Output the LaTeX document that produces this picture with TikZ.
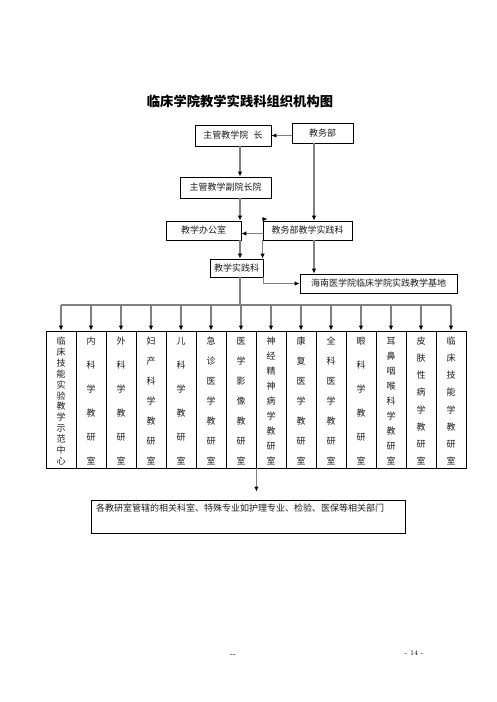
\documentclass[tikz,border=0pt]{standalone}
\usepackage{fontspec}
\newfontfamily\cjk{Noto Sans CJK SC}
\usetikzlibrary{positioning,arrows.meta}
\definecolor{colorline}{RGB}{128,128,128}
\definecolor{colortext}{RGB}{29 ,29 ,27 }

% one teaching office column: #1 index, #2 number of characters, #3 characters
\newcommand\keshi[3]{%
    \node[col] at ({31+30*#1},399.5) (ks#1) {};
    \foreach \c [count=\k from 0] in {#3}
        \node[txt] at ({31+30*#1},{341+120*\k/(#2-1)}) {\c};
}

\begin{document}
\begin{tikzpicture}[
    x=1pt, y=-1pt,
    font={\cjk\fontsize{9}{9}\selectfont},
    base/.style={draw=black,line width=0.8pt,fill=white,text=colortext,inner sep=0pt,align=center,rectangle},
    col/.style={base,minimum width=30pt,minimum height=137pt},
    txt/.style={text=colortext,inner sep=0pt},
    conn/.style={draw=colorline,line width=1.6pt,-{Latex[length=5pt,width=4.5pt,color=black]}},
    bus/.style={draw=colorline,line width=1.6pt},
]
    \useasboundingbox (0,0) rectangle (496,702);

    \node[font={\cjk\bfseries\fontsize{13.3}{14}\selectfont}] at (240,101) (title) {临床学院教学实践科组织机构图};

    \coordinate (axis)  at (240,0);
    \coordinate (axisb) at (314,0);

    \node[base,minimum width=76pt,minimum height=21pt] at (233,135.5) (yuanzhang) {主管教学院\hspace{0.6em}长};
    \node[base,minimum width=61pt,minimum height=20pt] at (322.5,133) (jiaowubu) {教务部};
    \draw[conn] (jiaowubu.west |- yuanzhang.east) -- (yuanzhang.east);

    \node[base,minimum width=91pt,minimum height=21pt] at (225.5,187.5) (fuyuanzhang) {主管教学副院长院};
    \draw[conn] (axis |- yuanzhang.south) -- (axis |- fuyuanzhang.north);

    \node[base,minimum width=75pt,minimum height=19pt] at (203.5,230.5) (bangong) {教学办公室};
    \node[base,minimum width=89pt,minimum height=19pt] at (307.5,230.5) (wuke) {教务部教学实践科};
    \draw[conn] (axis |- fuyuanzhang.south) -- (axis |- bangong.north);
    \draw[conn] (axisb |- jiaowubu.south) -- (axisb |- wuke.north);
    \draw[conn] ([yshift=-3pt]wuke.west) -- ([yshift=-3pt]bangong.east);
    \draw[conn] ([xshift=-1pt,yshift=1.5pt]wuke.north west) -- ([xshift=5pt,yshift=1.5pt]wuke.north west);

    \node[base,minimum width=53pt,minimum height=18pt] at (236.5,268) (shijian) {教学实践科};
    \draw[conn] (axis |- bangong.south) -- (axis |- shijian.north);
    \draw[conn] (wuke.south west) -- (wuke.south west |- shijian.north);

    \node[base,minimum width=157pt,minimum height=19pt] at (378.5,283.5) (hainan) {海南医学院临床学院实践教学基地};
    \draw[conn] (axisb |- wuke.south) -- (axisb |- hainan.north);
    \draw[conn] (shijian.south east) |- (hainan.west);

    % teaching and research offices
    \keshi{1}{12}{临,床,技,能,实,验,教,学,示,范,中,心}
    \keshi{2}{6}{内,科,学,教,研,室}
    \keshi{3}{6}{外,科,学,教,研,室}
    \keshi{4}{7}{妇,产,科,学,教,研,室}
    \keshi{5}{6}{儿,科,学,教,研,室}
    \keshi{6}{7}{急,诊,医,学,教,研,室}
    \keshi{7}{7}{医,学,影,像,教,研,室}
    \keshi{8}{9}{神,经,精,神,病,学,教,研,室}
    \keshi{9}{7}{康,复,医,学,教,研,室}
    \keshi{10}{7}{全,科,医,学,教,研,室}
    \keshi{11}{6}{眼,科,学,教,研,室}
    \keshi{12}{9}{耳,鼻,咽,喉,科,学,教,研,室}
    \keshi{13}{8}{皮,肤,性,病,学,教,研,室}
    \keshi{14}{8}{临,床,技,能,学,教,研,室}

    \coordinate (bus) at (240,305);
    \draw[bus] (axis |- shijian.south) -- (bus);
    \draw[bus] (ks1.north |- bus) -- (ks14.north |- bus);
    \foreach \i in {1,...,14}
        \draw[conn] (ks\i.north |- bus) -- (ks\i.north);

    \node[base,minimum width=314pt,minimum height=33pt,text width=304pt,align=left,
          font={\cjk\fontsize{9}{17}\selectfont}] at (248,516.5) (qita)
          {各教研室管辖的相关科室、特殊专业如护理专业、检验、医保等相关部门\\\mbox{}};
    \draw[conn,shorten >=8pt] (ks7.south east) -- (ks7.south east |- qita.north);

    \node[font={\rmfamily\fontsize{8}{8}\selectfont}] at (233,655) (foot) {{-}{-}};
    \node[font={\rmfamily\fontsize{7}{7}\selectfont}] at (414,653) (page) {- 14 -};

\end{tikzpicture}
\end{document}
